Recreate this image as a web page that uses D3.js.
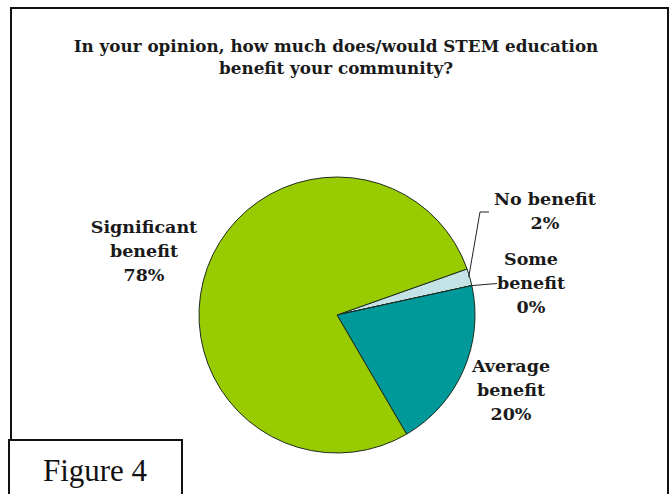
<!DOCTYPE html>
<html>
<head>
<meta charset="utf-8">
<script src="https://cdn.jsdelivr.net/npm/d3@7"></script>
<style>
  body { margin: 0; background: #fff; }
  svg { display: block; }
</style>
</head>
<body>
<script>
// datos del grafico
const categorias = ["No benefit", "Some benefit", "Average benefit", "Significant benefit"];
const valores = [2, 0, 20, 78];
const etiquetas = ["2%", "0%", "20%", "78%"];
const colores = ["#c4e3e6", "#7fbfbf", "#009999", "#99cc00"];
const titulo = ["In your opinion, how much does/would STEM education", "benefit your community?"];

const ancho = 670, alto = 494;
const svg = d3.select("body").append("svg").attr("width", ancho).attr("height", alto);

// marco exterior
svg.append("rect")
  .attr("x", 11).attr("y", 8)
  .attr("width", 657).attr("height", 500)
  .attr("fill", "#fff").attr("stroke", "#111").attr("stroke-width", 2);

// titulo
svg.append("g").selectAll("text")
  .data(titulo)
  .join("text")
  .attr("x", 336)
  .attr("y", (_, i) => 52 + i * 22)
  .attr("text-anchor", "middle")
  .attr("font-family", "'DejaVu Serif', serif")
  .attr("font-weight", "bold")
  .attr("font-size", 16.8)
  .attr("fill", "#1a1a1a")
  .text(d => d);

// pie
const cx = 337, cy = 315, r = 138;
const pie = d3.pie().sort(null).value(d => d)
  .startAngle(70.5 * Math.PI / 180)
  .endAngle(70.5 * Math.PI / 180 + 2 * Math.PI);
const arco = d3.arc().innerRadius(0).outerRadius(r);
const arcos = pie(valores);

svg.append("g")
  .attr("transform", `translate(${cx},${cy})`)
  .selectAll("path")
  .data(arcos)
  .join("path")
  .attr("d", arco)
  .attr("fill", (_, i) => colores[i])
  .attr("stroke", "#1d2b20")
  .attr("stroke-width", 1);

// lineas guia para las rebanadas chicas
function puntoBorde(a) {
  return [cx + r * Math.sin(a), cy - r * Math.cos(a)];
}
const pNo = puntoBorde((arcos[0].startAngle + arcos[0].endAngle) / 2);
const pSome = puntoBorde(arcos[1].startAngle);
svg.append("path")
  .attr("d", d3.line()([[pNo[0] - 1, pNo[1]], [480, 212], [489, 212]]))
  .attr("fill", "none").attr("stroke", "#222").attr("stroke-width", 1);
svg.append("path")
  .attr("d", d3.line()([pSome, [497, 283.5]]))
  .attr("fill", "none").attr("stroke", "#222").attr("stroke-width", 1);

// etiquetas
const posEtiquetas = [
  { x: 545, y: 205, lineas: ["No benefit", etiquetas[0]] },
  { x: 531, y: 265, lineas: ["Some", "benefit", etiquetas[1]] },
  { x: 511, y: 372, lineas: ["Average", "benefit", etiquetas[2]] },
  { x: 144, y: 233, lineas: ["Significant", "benefit", etiquetas[3]] }
];

const gEt = svg.append("g")
  .attr("font-family", "'DejaVu Serif', serif")
  .attr("font-weight", "bold")
  .attr("font-size", 17.5)
  .attr("fill", "#1a1a1a")
  .attr("text-anchor", "middle");

posEtiquetas.forEach(p => {
  gEt.append("text")
    .selectAll("tspan")
    .data(p.lineas)
    .join("tspan")
    .attr("x", p.x)
    .attr("y", (_, i) => p.y + i * 24)
    .text(d => d);
});

// recuadro "Figure 4"
svg.append("rect")
  .attr("x", 9).attr("y", 440)
  .attr("width", 173).attr("height", 70)
  .attr("fill", "#fff").attr("stroke", "#111").attr("stroke-width", 2);
svg.append("text")
  .attr("x", 95).attr("y", 481)
  .attr("text-anchor", "middle")
  .attr("font-family", "'Liberation Serif', 'Times New Roman', serif")
  .attr("font-size", 31)
  .attr("fill", "#111")
  .text("Figure 4");
</script>
</body>
</html>
